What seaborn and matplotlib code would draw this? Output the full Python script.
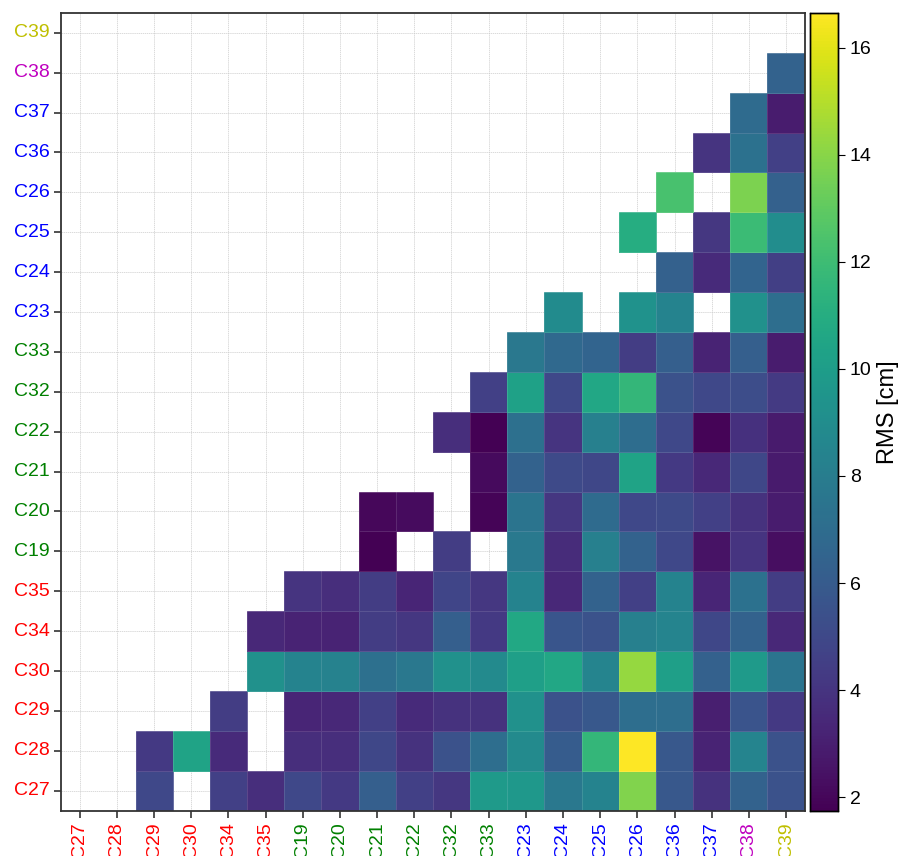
import numpy as np
import pandas as pd
import seaborn as sns
import matplotlib.pyplot as plt

nan = np.nan

# station order on both axes (bottom -> top, left -> right)
stations = ['C27', 'C28', 'C29', 'C30', 'C34', 'C35', 'C19', 'C20', 'C21', 'C22',
            'C32', 'C33', 'C23', 'C24', 'C25', 'C26', 'C36', 'C37', 'C38', 'C39']
label_colors = ['r'] * 6 + ['g'] * 6 + ['b'] * 6 + ['m', 'y']

# RMS [cm] per row station (columns follow `stations`)
row_C27 = [nan, nan, 5.0, nan, 4.6, 3.7, 5.0, 4.2, 6.2, 4.6, 4.1, 9.8, 9.7, 7.7, 8.4, 13.8, 5.8, 3.9, 6.4, 5.5]
row_C28 = [nan, nan, 4.2, 10.4, 3.5, nan, 3.7, 3.7, 4.9, 3.9, 5.5, 7.1, 8.8, 6.0, 11.6, 16.65, 5.8, 3.2, 8.5, 5.5]
row_C29 = [nan, nan, nan, nan, 4.4, nan, 3.3, 3.4, 4.6, 3.5, 3.9, 3.9, 9.2, 5.5, 5.8, 7.1, 7.1, 3.0, 5.6, 4.2]
row_C30 = [nan] * 5 + [9.2, 8.4, 8.3, 7.2, 7.7, 9.2, 8.8, 10.1, 10.6, 8.5, 14.3, 10.1, 6.3, 9.8, 7.5]
row_C34 = [nan] * 5 + [3.4, 3.2, 3.2, 4.4, 4.1, 6.2, 4.2, 10.7, 5.7, 5.5, 8.2, 8.5, 4.9, 6.4, 3.4]
row_C35 = [nan] * 6 + [4.0, 3.7, 4.4, 3.3, 4.8, 4.1, 8.4, 3.4, 6.4, 4.6, 8.4, 3.3, 7.3, 4.4]
row_C19 = [nan] * 8 + [1.75, nan, 4.4, nan, 7.8, 3.6, 8.2, 6.4, 5.0, 2.5, 4.0, 2.3]
row_C20 = [nan] * 8 + [2.0, 2.2, nan, 1.9, 7.5, 4.1, 6.9, 5.0, 5.1, 4.6, 3.9, 2.9]
row_C21 = [nan] * 11 + [2.1, 6.4, 5.1, 4.9, 10.4, 4.2, 3.4, 4.9, 2.8]
row_C22 = [nan] * 10 + [3.7, 1.8, 7.2, 4.0, 8.2, 7.0, 5.0, 1.9, 3.8, 2.8]
row_C32 = [nan] * 11 + [4.6, 10.3, 5.0, 10.6, 11.6, 5.5, 5.0, 5.2, 4.3]
row_C33 = [nan] * 12 + [7.7, 6.8, 6.5, 4.4, 6.2, 3.2, 6.2, 2.9]
row_C23 = [nan] * 13 + [8.9, nan, 9.3, 8.4, nan, 9.2, 7.1]
row_C24 = [nan] * 16 + [6.3, 3.5, 6.5, 4.5]
row_C25 = [nan] * 15 + [11.0, nan, 4.1, 11.9, 9.0]
row_C26 = [nan] * 16 + [12.3, nan, 13.7, 6.3]
row_C36 = [nan] * 17 + [4.0, 7.3, 4.6]
row_C37 = [nan] * 18 + [6.9, 2.9]
row_C38 = [nan] * 19 + [6.4]
row_C39 = [nan] * 20

if __name__ == "__main__":
    rows = [row_C27, row_C28, row_C29, row_C30, row_C34, row_C35, row_C19, row_C20,
            row_C21, row_C22, row_C32, row_C33, row_C23, row_C24, row_C25, row_C26,
            row_C36, row_C37, row_C38, row_C39]
    df = pd.DataFrame(rows, index=stations, columns=stations)

    plt.rcParams['font.family'] = ['Liberation Sans', 'DejaVu Sans']

    fig = plt.figure(figsize=(9, 8.56), dpi=100)
    ax = fig.add_axes([0.068, 0.053, 0.826, 0.932])
    cax = fig.add_axes([0.9, 0.053, 0.031, 0.932])

    sns.heatmap(df, cmap='viridis', ax=ax, cbar_ax=cax, square=False,
                linewidths=0.4, linecolor=(1, 1, 1, 0.12),
                cbar_kws={'label': 'RMS [cm]'})
    ax.invert_yaxis()

    # grid under the cells, box around the axes
    ax.set_axisbelow(True)
    ax.grid(True, linestyle='--', linewidth=0.5, color='#cccccc', dashes=(2, 1))
    for sp in ax.spines.values():
        sp.set_visible(True)
        sp.set_color('#333333')
        sp.set_linewidth(1.3)

    ax.set_xlabel('')
    ax.set_ylabel('')
    ax.tick_params(axis='both', labelsize=14, length=5, width=1.2, color='#333333')
    ax.set_xticklabels(stations, rotation=90)
    ax.set_yticklabels(stations, rotation=0)
    for lab, c in zip(ax.get_xticklabels(), label_colors):
        lab.set_color(c)
    for lab, c in zip(ax.get_yticklabels(), label_colors):
        lab.set_color(c)

    cax.tick_params(labelsize=14, length=5)
    cax.set_ylabel('RMS [cm]', fontsize=17)
    for sp in cax.spines.values():
        sp.set_visible(True)
        sp.set_linewidth(1.0)

    fig.savefig('out.png', dpi=100)
